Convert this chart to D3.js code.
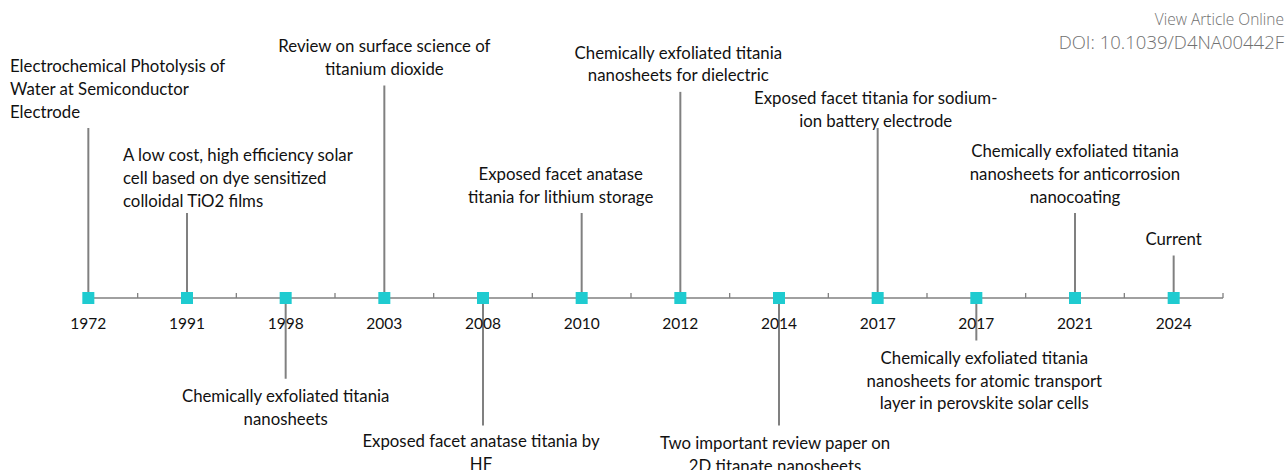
<!DOCTYPE html>
<html>
<head>
<meta charset="utf-8">
<script src="https://cdn.jsdelivr.net/npm/d3@7"></script>
<style>
  html, body { margin: 0; padding: 0; background: #fff; }
  svg { display: block; }
</style>
</head>
<body>
<svg id="chart" width="1288" height="470"></svg>
<script>
// ---- data ----
const categories = ["1972", "1991", "1998", "2003", "2008", "2010", "2012", "2014", "2017", "2017 ", "2021", "2024"];
const tickLabels = ["1972", "1991", "1998", "2003", "2008", "2010", "2012", "2014", "2017", "2017", "2021", "2024"];
const stemValues = [4.0, 2.0, -1.9, 5.0, -3.0, 2.0, 4.85, -3.0, 4.0, -1.0, 2.0, 1.0];
const eventLabels = [
  "Electrochemical Photolysis of\nWater at Semiconductor\nElectrode",
  "A low cost, high efficiency solar\ncell based on dye sensitized\ncolloidal TiO2 films",
  "Chemically exfoliated titania\nnanosheets",
  "Review on surface science of\ntitanium dioxide",
  "Exposed facet anatase titania by\nHF",
  "Exposed facet anatase\ntitania for lithium storage",
  "Chemically exfoliated titania\nnanosheets for dielectric",
  "Two important review paper on\n2D titanate nanosheets",
  "Exposed facet titania for sodium-\nion battery electrode",
  "Chemically exfoliated titania\nnanosheets for atomic transport\nlayer in perovskite solar cells",
  "Chemically exfoliated titania\nnanosheets for anticorrosion\nnanocoating",
  "Current"
];
const headerLines = ["View Article Online", "DOI: 10.1039/D4NA00442F"];

// ---- layout ----
const svg = d3.select("#chart");
const FONT = "Lato, 'Open Sans', sans-serif";
const axisY = 298;
const x = d3.scaleBand().domain(categories).range([39, 1223]).padding(0);
const y = d3.scaleLinear().domain([-5, 5]).range([axisY + 212.5, axisY - 212.5]);
const cx = c => x(c) + x.bandwidth() / 2;

// label placement tweaks (layout only)
const labelLayout = {
  0: { anchor: "start", absX: 10, dy: 0 },
  1: { anchor: "start", absX: 123, dy: 4 },
  4: { dx: -2, dy: -2 },
  5: { dx: -21 },
  6: { dx: -2 },
  7: { dx: -4 },
  8: { dx: -2, dy: 9 },
  9: { dx: 8 },
  10: { dx: 0 }
};
const lineH = 22.7;
const gap = 17;
const LABEL_SIZE = 16.8;

const gray = "#808080";

// stems
svg.append("g").selectAll("line").data(categories).join("line")
  .attr("x1", d => cx(d)).attr("x2", d => cx(d))
  .attr("y1", y(0)).attr("y2", (d, i) => y(stemValues[i]))
  .attr("stroke", gray).attr("stroke-width", 2);

// axis line
svg.append("line")
  .attr("x1", cx(categories[0])).attr("x2", x.range()[1])
  .attr("y1", axisY).attr("y2", axisY)
  .attr("stroke", gray).attr("stroke-width", 1.5);

// tick marks at band boundaries (skip first)
const boundaries = categories.slice(1).map(c => x(c)).concat([x.range()[1]]);
svg.append("g").selectAll("line").data(boundaries).join("line")
  .attr("x1", d => d).attr("x2", d => d)
  .attr("y1", axisY).attr("y2", axisY - 5)
  .attr("stroke", gray).attr("stroke-width", 1.3);

// markers
const ms = 12;
svg.append("g").selectAll("rect").data(categories).join("rect")
  .attr("x", d => cx(d) - ms / 2).attr("y", axisY - ms / 2)
  .attr("width", ms).attr("height", ms)
  .attr("fill", "#1fcbd0");

// tick labels
svg.append("g").selectAll("text").data(categories).join("text")
  .attr("x", d => cx(d)).attr("y", axisY + 25)
  .attr("dominant-baseline", "central")
  .attr("text-anchor", "middle")
  .attr("font-family", FONT).attr("font-size", 15.5).attr("fill", "#111")
  .text((d, i) => tickLabels[i]);

// event labels
eventLabels.forEach((txt, i) => {
  const lines = txt.split("\n");
  const v = stemValues[i];
  const end = y(v);
  const lay = labelLayout[i] || {};
  const anchor = lay.anchor || "middle";
  const tx = lay.absX !== undefined ? lay.absX : cx(categories[i]) + (lay.dx || 0);
  let firstCenter;
  if (v >= 0) {
    const lastCenter = end - gap + (lay.dy || 0);
    firstCenter = lastCenter - (lines.length - 1) * lineH;
  } else {
    firstCenter = end + gap + (lay.dy || 0);
  }
  const t = svg.append("text")
    .attr("font-family", FONT).attr("font-size", LABEL_SIZE).attr("fill", "#111")
    .attr("text-anchor", anchor);
  lines.forEach((ln, k) => {
    t.append("tspan").attr("x", tx)
      .attr("y", firstCenter + k * lineH)
      .attr("dominant-baseline", "central")
      .text(ln);
  });
});

// header
svg.append("text").attr("x", 1284).attr("y", 19)
  .attr("text-anchor", "end").attr("dominant-baseline", "central")
  .attr("font-family", "'Open Sans', sans-serif").attr("font-weight", 300)
  .attr("font-size", 15.5).attr("fill", "#707070").text(headerLines[0]);
svg.append("text").attr("x", 1284).attr("y", 41)
  .attr("text-anchor", "end").attr("dominant-baseline", "central")
  .attr("font-family", "'Open Sans', sans-serif").attr("font-weight", 300)
  .attr("font-size", 18.5).attr("fill", "#707070").text(headerLines[1]);
</script>
</body>
</html>
